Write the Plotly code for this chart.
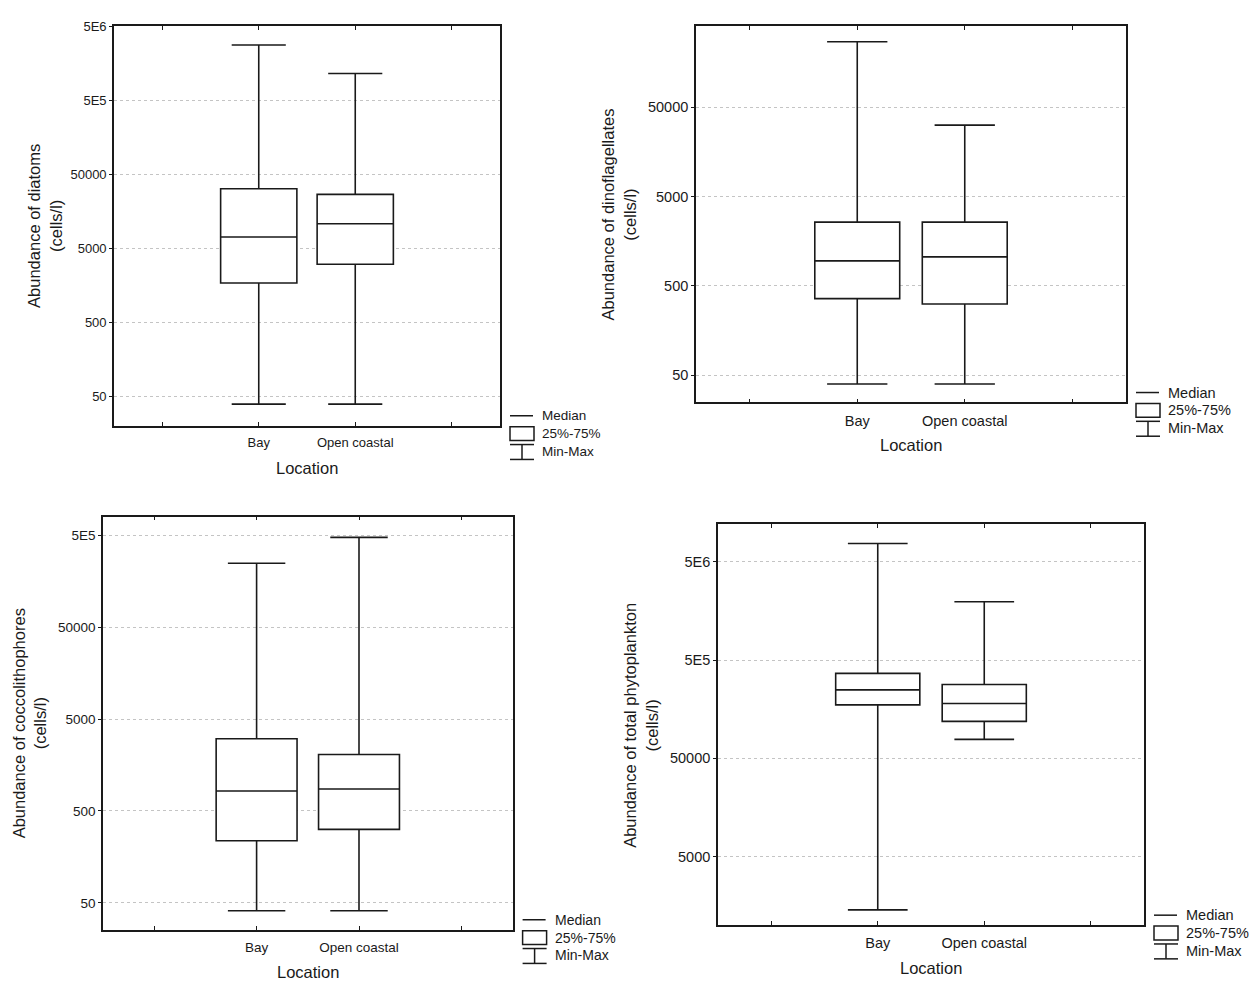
import numpy as np
import plotly.graph_objects as go

W, H = 1249, 981
FONT = "Liberation Sans, Arial, sans-serif"
INK = "#1a1a1a"

# ---------------- data ----------------
categories = ["Bay", "Open coastal"]

diatoms_min = [39, 39]
diatoms_q1 = [1690, 3030]
diatoms_median = [7080, 10700]
diatoms_q3 = [31800, 26700]
diatoms_max = [2.8e6, 1.15e6]

dino_min = [40, 40]
dino_q1 = [361, 315]
dino_median = [956, 1060]
dino_q3 = [2590, 2590]
dino_max = [2.7e5, 31500]

cocco_min = [41, 41]
cocco_q1 = [237, 315]
cocco_median = [826, 869]
cocco_q3 = [3060, 2060]
cocco_max = [2.49e5, 4.76e5]

total_min = [1430, 78000]
total_q1 = [1.75e5, 1.19e5]
total_median = [2.49e5, 1.81e5]
total_q3 = [3.67e5, 2.82e5]
total_max = [7.7e6, 1.97e6]

ytick_vals = [50, 500, 5000, 50000, 5e5, 5e6]
ytick_text = ["50", "500", "5000", "50000", "5E5", "5E6"]

x_tick_text = [""] + categories + [""]
legend_labels = ["Median", "25%-75%", "Min-Max"]
x_title = "Location"

panels = [
    dict(name="diatoms", data=(diatoms_min, diatoms_q1, diatoms_median, diatoms_q3, diatoms_max),
         box=(114, 500, 19, 421.7), yrange=(1.30, 6.705), ticks=(50, 5e6), nright=7,
         title="Abundance of diatoms<br>(cells/l)", tpos=(44.5, 221), tf=13, ttf=16.5, lf=13.5),
    dict(name="dinoflagellates", data=(dino_min, dino_q1, dino_median, dino_q3, dino_max),
         box=(696, 1126, 19.3, 398.3), yrange=(1.396, 5.606), ticks=(50, 50000), nright=15,
         title="Abundance of dinoflagellates<br>(cells/l)", tpos=(618.5, 209.5), tf=14.5, ttf=16.5, lf=14.5),
    dict(name="coccolithophores", data=(cocco_min, cocco_q1, cocco_median, cocco_q3, cocco_max),
         box=(103, 512.6, 513.3, 929.3), yrange=(1.407, 5.903), ticks=(50, 5e5), nright=6,
         title="Abundance of coccolithophores<br>(cells/l)", tpos=(29, 721.5), tf=13.5, ttf=16.5, lf=14),
    dict(name="total phytoplankton", data=(total_min, total_q1, total_median, total_q3, total_max),
         box=(718, 1144, 521, 924.7), yrange=(3.0, 7.083), ticks=(5000, 5e6), nright=10,
         title="Abundance of total phytoplankton<br>(cells/l)", tpos=(641, 723), tf=14.5, ttf=16.5, lf=14.5),
]


def px(x):
    return x / W


def py(y):
    return 1 - y / H


fig = go.Figure()
shapes = []
annotations = []
positions = np.arange(len(categories)) + 2

for i, p in enumerate(panels, start=1):
    lo, q1, med, q3, hi = p["data"]
    L, R, T, B = p["box"]
    sfx = "" if i == 1 else str(i)
    fig.add_trace(go.Box(
        x=positions, q1=q1, median=med, q3=q3, lowerfence=lo, upperfence=hi,
        width=0.79, whiskerwidth=0.71, boxpoints=False,
        fillcolor="white", line=dict(color=INK, width=1.6),
        xaxis="x" + sfx, yaxis="y" + sfx, showlegend=False, name=p["name"],
    ))
    tv = [v for v in ytick_vals if p["ticks"][0] <= v <= p["ticks"][1]]
    tt = [ytick_text[ytick_vals.index(v)] for v in tv]
    fig.layout["xaxis" + sfx] = dict(
        domain=[px(L), px(R)], anchor="y" + sfx, range=[0.5, 4.5],
        tickvals=[1, 2, 3, 4], ticktext=x_tick_text, ticks="inside", ticklen=4,
        tickcolor=INK, showline=True, linecolor=INK, linewidth=1.6, mirror="ticks",
        showgrid=False, zeroline=False, ticklabelstandoff=4,
        tickfont=dict(family=FONT, size=p["tf"], color=INK),
    )
    fig.layout["yaxis" + sfx] = dict(
        domain=[py(B), py(T)], anchor="x" + sfx, type="log", range=list(p["yrange"]),
        tickvals=tv, ticktext=tt, ticks="outside", ticklen=3, tickcolor=INK,
        showline=True, linecolor=INK, linewidth=1.6, mirror=True,
        showgrid=True, gridcolor="#c4c4c4", gridwidth=1, griddash="dot", zeroline=False,
        tickfont=dict(family=FONT, size=p["tf"], color=INK),
    )
    n = p["nright"]
    fig.layout["yaxis" + str(i + 4)] = dict(
        overlaying="y" + sfx, anchor="x" + sfx, side="right", range=[0, 1],
        tickvals=[k / n for k in range(1, n)], ticks="inside", ticklen=4, tickcolor=INK,
        showticklabels=False, showgrid=False, zeroline=False, showline=False,
    )

    # axis titles
    annotations.append(dict(text=p["title"], x=px(p["tpos"][0]), y=py(p["tpos"][1]),
                            xref="paper", yref="paper", showarrow=False, textangle=-90,
                            xanchor="center", yanchor="middle",
                            font=dict(family=FONT, size=p["ttf"], color=INK)))
    annotations.append(dict(text=x_title, x=px((L + R) / 2), y=py(B + 43),
                            xref="paper", yref="paper", showarrow=False,
                            xanchor="center", yanchor="middle",
                            font=dict(family=FONT, size=p["ttf"], color=INK)))

    # custom legend (median / box / min-max)
    ln = dict(color=INK, width=1.5)
    shapes.append(dict(type="line", xref="paper", yref="paper", x0=px(R + 10), x1=px(R + 33),
                       y0=py(B - 10), y1=py(B - 10), line=ln))
    shapes.append(dict(type="rect", xref="paper", yref="paper", x0=px(R + 10), x1=px(R + 34),
                       y0=py(B + 15), y1=py(B + 1), line=ln, fillcolor="white"))
    shapes.append(dict(type="line", xref="paper", yref="paper", x0=px(R + 10), x1=px(R + 34),
                       y0=py(B + 19), y1=py(B + 19), line=ln))
    shapes.append(dict(type="line", xref="paper", yref="paper", x0=px(R + 22), x1=px(R + 22),
                       y0=py(B + 19), y1=py(B + 34), line=ln))
    shapes.append(dict(type="line", xref="paper", yref="paper", x0=px(R + 10), x1=px(R + 34),
                       y0=py(B + 34), y1=py(B + 34), line=ln))
    for lab, dy in zip(legend_labels, [-10, 8, 26]):
        annotations.append(dict(text=lab, x=px(R + 40), y=py(B + dy), xref="paper", yref="paper",
                                showarrow=False, xanchor="left", yanchor="middle",
                                font=dict(family=FONT, size=p["lf"], color=INK)))

fig.update_layout(
    width=W, height=H, margin=dict(l=0, r=0, t=0, b=0),
    paper_bgcolor="white", plot_bgcolor="white",
    shapes=shapes, annotations=annotations, showlegend=False,
)

fig.write_html(
    "out.html",
    config={"displayModeBar": False},
    post_script="document.body.style.margin='0px';document.body.style.padding='0px';"
                "document.body.style.overflow='hidden';",
)
